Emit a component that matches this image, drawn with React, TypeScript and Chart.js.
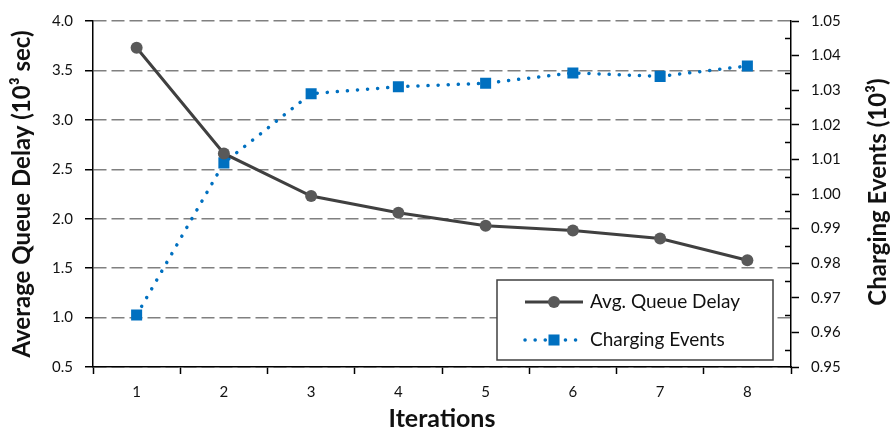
import React, { useEffect, useRef } from "react";
import { Chart, registerables } from "chart.js";

Chart.register(...registerables);

const iterations = ["1", "2", "3", "4", "5", "6", "7", "8"];
const avgQueueDelay = [3.73, 2.66, 2.23, 2.06, 1.93, 1.88, 1.8, 1.58];
const chargingEvents = [0.965, 1.009, 1.029, 1.031, 1.032, 1.035, 1.034, 1.037];
const seriesNames = ["Avg. Queue Delay", "Charging Events"];
const leftAxisTitle = "Average Queue Delay (10\u00B3 sec)";
const rightAxisTitle = "Charging Events (10\u00B3)";
const xAxisTitle = "Iterations";
const leftMin = 0.5;
const leftMax = 4.0;
const leftStep = 0.5;
const rightMin = 0.95;
const rightMax = 1.05;
const rightStep = 0.01;

const FONT = "Lato, 'Open Sans', sans-serif";
const GRAY_LINE = "#404040";
const GRAY_MARK = "#595959";
const BLUE = "#0070C0";
const TITLE_SIZE = 24;
const X_TITLE_SIZE = 25;
const TICK_SIZE = 15;
const TEXT = "#111";

const minorTicksPlugin = {
  id: "minorTicks",
  afterDraw(chart: any) {
    const s = chart.scales.y1;
    if (!s) return;
    const ctx = chart.ctx;
    ctx.save();
    ctx.strokeStyle = "#000";
    ctx.lineWidth = 1.5;
    const t = s.ticks;
    for (let i = 0; i < t.length - 1; i++) {
      const mid = (t[i].value + t[i + 1].value) / 2;
      const y = Math.round(s.getPixelForValue(mid)) + 0.5;
      ctx.beginPath();
      ctx.moveTo(s.left, y);
      ctx.lineTo(s.left - 6, y);
      ctx.stroke();
    }
    ctx.restore();
  },
};

const rightTitlePlugin = {
  id: "rightTitle",
  afterDraw(chart: any) {
    const s = chart.scales.y1;
    const ca = chart.chartArea;
    const ctx = chart.ctx;
    ctx.save();
    ctx.translate(s.right - 13, (ca.top + ca.bottom) / 2 - 2);
    ctx.rotate(-Math.PI / 2);
    ctx.fillStyle = TEXT;
    ctx.font = `bold ${TITLE_SIZE}px ${FONT}`;
    ctx.textAlign = "center";
    ctx.textBaseline = "middle";
    ctx.fillText(rightAxisTitle, 0, 0);
    ctx.restore();
  },
};

const legendPlugin = {
  id: "insideLegend",
  afterDraw(chart: any) {
    const ctx = chart.ctx;
    const ca = chart.chartArea;
    const w = 276;
    const h = 80;
    const x = ca.right - 18 - w;
    const y = ca.bottom - 7 - h;
    ctx.save();
    ctx.fillStyle = "#fff";
    ctx.fillRect(x, y, w, h);
    ctx.strokeStyle = "#404040";
    ctx.lineWidth = 1.5;
    ctx.strokeRect(x, y, w, h);
    const rows = [y + 22, y + 60];
    chart.data.datasets.forEach((ds: any, i: number) => {
      const ry = rows[i];
      const x1 = x + 28;
      const x2 = x + 86;
      const cx = (x1 + x2) / 2;
      ctx.save();
      ctx.strokeStyle = ds.borderColor;
      ctx.lineWidth = ds.borderWidth;
      ctx.lineCap = ds.borderCapStyle || "butt";
      ctx.setLineDash(ds.borderDash || []);
      ctx.beginPath();
      ctx.moveTo(x1, ry);
      ctx.lineTo(x2, ry);
      ctx.stroke();
      ctx.restore();
      ctx.fillStyle = ds.pointBackgroundColor;
      if (ds.pointStyle === "rect") {
        const s = ds.pointRadius * Math.SQRT1_2;
        ctx.fillRect(cx - s, ry - s, 2 * s, 2 * s);
      } else {
        ctx.beginPath();
        ctx.arc(cx, ry, ds.pointRadius, 0, Math.PI * 2);
        ctx.fill();
      }
      ctx.fillStyle = TEXT;
      ctx.font = `19px ${FONT}`;
      ctx.textBaseline = "middle";
      ctx.textAlign = "left";
      ctx.fillText(ds.label, x + 93, ry);
    });
    ctx.restore();
  },
};

export default function App() {
  const ref = useRef<HTMLCanvasElement | null>(null);
  useEffect(() => {
    if (!ref.current) return;
    const chart = new Chart(ref.current, {
      type: "line",
      data: {
        labels: iterations,
        datasets: [
          {
            label: seriesNames[0],
            data: avgQueueDelay,
            yAxisID: "y",
            borderColor: GRAY_LINE,
            borderWidth: 3,
            pointStyle: "circle",
            pointRadius: 6,
            pointBackgroundColor: GRAY_MARK,
            pointBorderWidth: 0,
            tension: 0,
          },
          {
            label: seriesNames[1],
            data: chargingEvents,
            yAxisID: "y1",
            borderColor: BLUE,
            borderWidth: 3.5,
            borderDash: [0.1, 10],
            borderCapStyle: "round",
            pointStyle: "rect",
            pointRadius: 7.8,
            pointBackgroundColor: BLUE,
            pointBorderWidth: 0,
            tension: 0,
          },
        ] as any,
      },
      options: {
        responsive: false,
        animation: false,
        layout: { padding: { top: 13, left: 0, right: 0, bottom: 0 } },
        plugins: { legend: { display: false }, tooltip: { enabled: false } },
        scales: {
          x: {
            type: "category",
            offset: true,
            grid: {
              offset: true,
              drawOnChartArea: false,
              drawTicks: true,
              tickLength: 7,
              tickColor: "#000",
              tickWidth: 1.5,
            },
            border: { color: "#000", width: 1.5 },
            ticks: { color: TEXT, font: { family: FONT, size: TICK_SIZE }, padding: 9 },
            title: {
              display: true,
              text: xAxisTitle,
              color: TEXT,
              font: { family: FONT, size: X_TITLE_SIZE, weight: "bold" },
              padding: { top: 0, bottom: 2 },
            },
            afterFit: (s: any) => {
              s.height = 69;
            },
          },
          y: {
            position: "left",
            min: leftMin,
            max: leftMax,
            ticks: {
              stepSize: leftStep,
              color: TEXT,
              font: { family: FONT, size: TICK_SIZE },
              padding: 12,
              callback: (v: any) => Number(v).toFixed(1),
            },
            grid: {
              color: "#808080",
              lineWidth: 1.5,
              tickColor: "#000",
              tickWidth: 1.5,
              tickLength: 8,
            },
            border: { color: "#000", width: 1.5, dash: [13, 5] },
            title: {
              display: true,
              text: leftAxisTitle,
              color: TEXT,
              font: { family: FONT, size: TITLE_SIZE, weight: "bold" },
              padding: { top: 8, bottom: 0 },
            },
            afterFit: (s: any) => {
              s.width = 93;
            },
          },
          y1: {
            position: "right",
            min: rightMin,
            max: rightMax,
            ticks: {
              stepSize: rightStep,
              color: TEXT,
              font: { family: FONT, size: TICK_SIZE },
              padding: 12,
              callback: (v: any) => Number(v).toFixed(2),
            },
            grid: {
              drawOnChartArea: false,
              drawTicks: true,
              tickColor: "#000",
              tickWidth: 1.5,
              tickLength: 8,
            },
            border: { color: "#000", width: 1.5 },
            title: { display: false, text: rightAxisTitle },
            afterFit: (s: any) => {
              s.width = 100;
            },
          },
        },
      } as any,
      plugins: [minorTicksPlugin, rightTitlePlugin, legendPlugin],
    });
    return () => chart.destroy();
  }, []);
  return (
    <div style={{ position: "fixed", left: 0, top: 0, width: 891, height: 436, background: "#fff" }}>
      <canvas ref={ref} width={891} height={436} style={{ display: "block" }} />
    </div>
  );
}
